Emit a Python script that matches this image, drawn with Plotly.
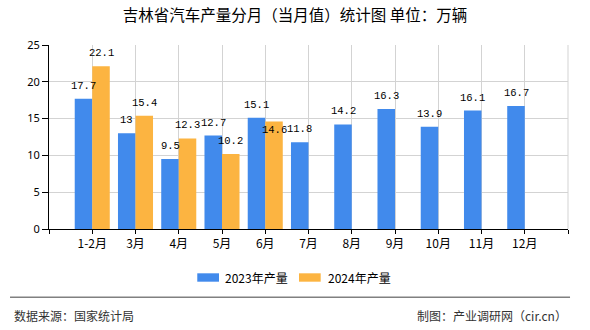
import plotly.graph_objects as go

categories = ["1-2月", "3月", "4月", "5月", "6月", "7月", "8月", "9月", "10月", "11月", "12月"]
values_2023 = [17.7, 13, 9.5, 12.7, 15.1, 11.8, 14.2, 16.3, 13.9, 16.1, 16.7]
values_2024 = [22.1, 15.4, 12.3, 10.2, 14.6, None, None, None, None, None, None]
series_names = ["2023年产量", "2024年产量"]
y_ticks = [0, 5, 10, 15, 20, 25]

colors = ["#418AEC", "#FCB441"]
label_shift_2024 = {4: -8}  # label placed lower to avoid overlap (style)

xs = list(range(len(categories)))
fig = go.Figure()
for name, vals, col in zip(series_names, [values_2023, values_2024], colors):
    fig.add_trace(go.Bar(x=xs, y=vals, name=name, marker=dict(color=col, line=dict(width=0)),
                         showlegend=False))

mono = "Liberation Mono, DejaVu Sans Mono, monospace"
annotations = []
for i, v in enumerate(values_2023):
    if v is not None:
        annotations.append(dict(x=i, y=v, xref="x", yref="y", text=f"{v:g}", showarrow=False,
                                xshift=-8.75, yshift=13, font=dict(family=mono, size=10.5, color="#000")))
for i, v in enumerate(values_2024):
    if v is not None:
        annotations.append(dict(x=i, y=v, xref="x", yref="y", text=f"{v:g}", showarrow=False,
                                xshift=8.75, yshift=label_shift_2024.get(i, 13),
                                font=dict(family=mono, size=10.5, color="#000")))

cjk = "Noto Sans CJK SC, sans-serif"
annotations.append(dict(x=-0.0719, y=-0.471, xref="paper", yref="paper", xanchor="left", yanchor="middle",
                        text="数据来源：国家统计局", showarrow=False, font=dict(family=cjk, size=12, color="#333")))
annotations.append(dict(x=1.0019, y=-0.471, xref="paper", yref="paper", xanchor="right", yanchor="middle",
                        text="制图：产业调研网（cir.cn）", showarrow=False, font=dict(family=cjk, size=12, color="#333")))

# manual legend (keys + labels)
legend_shapes = []
for name, col, x0, x1, tx in zip(series_names, colors, [0.2857, 0.4817], [0.3276, 0.5235], [0.3358, 0.5331]):
    legend_shapes.append(dict(type="rect", xref="paper", yref="paper", x0=x0, x1=x1, y0=-0.2864, y1=-0.2408,
                              fillcolor=col, line=dict(width=0)))
    annotations.append(dict(x=tx, y=-0.2636, xref="paper", yref="paper", xanchor="left", yanchor="middle",
                            text=name, showarrow=False, font=dict(family=cjk, size=12, color="#000")))

tickvals = [-1] + xs + [len(categories)]
ticktext = [""] + categories + [""]

fig.update_layout(
    width=590, height=330,
    margin=dict(l=49, r=22, t=45, b=101),
    paper_bgcolor="white", plot_bgcolor="white",
    barmode="group", bargap=0.19, bargroupgap=0,
    title=dict(text="吉林省汽车产量分月（当月值）统计图 单位：万辆", x=0.5, xref="container", xanchor="center",
               y=1 - 16 / 330, yref="container", yanchor="middle",
               font=dict(family=cjk, size=15.5, color="#000")),
    xaxis=dict(range=[-1, len(categories)], tickvals=tickvals, ticktext=ticktext,
               showgrid=True, gridcolor="#D3D3D3", gridwidth=1,
               showline=True, linecolor="#000", linewidth=1,
               ticks="outside", ticklen=4, tickcolor="#000",
               tickfont=dict(family=cjk, size=12, color="#000"), zeroline=False, fixedrange=True),
    yaxis=dict(range=[0, 25], tickvals=y_ticks, showgrid=True, gridcolor="#D3D3D3", gridwidth=1,
               showline=True, linecolor="#000", linewidth=1,
               ticks="outside", ticklen=6, tickcolor="#000",
               tickfont=dict(family="Noto Sans, sans-serif", size=11, color="#000"), zeroline=False),
    showlegend=False,
    annotations=annotations,
    shapes=[dict(type="line", xref="paper", yref="paper", x0=-0.0751, x1=1.0039, y0=-0.371, y1=-0.371,
                 line=dict(color="#808080", width=1.5)),
            dict(type="line", xref="paper", yref="paper", x0=1, x1=1, y0=0, y1=1,
                 line=dict(color="#D3D3D3", width=1))] + legend_shapes,
)

fig.write_html("out.html")
